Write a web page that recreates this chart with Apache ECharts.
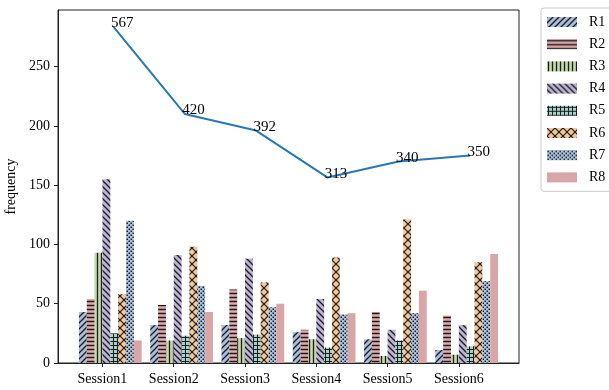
<!DOCTYPE html>
<html>
<head>
<meta charset="utf-8">
<script src="https://cdn.jsdelivr.net/npm/echarts@6/dist/echarts.min.js"></script>
<style>
  html, body { margin: 0; padding: 0; background: #fff; }
  #chart { width: 609px; height: 390px; }
</style>
</head>
<body>
<div id="chart"></div>
<script>
// Sessions along the x axis
const sessions = ['Session1', 'Session2', 'Session3', 'Session4', 'Session5', 'Session6'];
const seriesNames = ['R1', 'R2', 'R3', 'R4', 'R5', 'R6', 'R7', 'R8'];

// Per-session frequencies for each response group
const r1 = [43, 32, 32, 26, 20, 11];
const r2 = [54, 49, 62, 28, 43, 40];
const r3 = [93, 19, 21, 20, 6, 7];
const r4 = [155, 91, 88, 54, 28, 32];
const r5 = [25, 23, 24, 13, 19, 14];
const r6 = [58, 98, 68, 89, 121, 85];
const r7 = [120, 65, 47, 41, 42, 69];
const r8 = [19, 43, 50, 42, 61, 92];

// Session totals (line is drawn at half the total, label shows the total)
const sessionTotals = [567, 420, 392, 313, 340, 350];

const yTicks = [0, 50, 100, 150, 200, 250];

const groups = [r1, r2, r3, r4, r5, r6, r7, r8];
const fills = ['#a9bdd8', '#e2aaa8', '#c6d9a6', '#bdb3d2', '#a3d2c4', '#f4c79b', '#a9c2de', '#d8a6a6'];
const hatches = ['/', '-', '|', '\\', '+', 'x', '.', ''];

const INK = '#1c1c24';

// Build a repeating hatch tile on a small canvas
function hatchTile(bg, kind) {
  const size = (kind === 'x') ? 8 : (kind === '/' || kind === '\\') ? 6 : 4;
  const c = document.createElement('canvas');
  c.width = size; c.height = size;
  const g = c.getContext('2d');
  g.fillStyle = bg;
  g.fillRect(0, 0, size, size);
  g.strokeStyle = INK;
  g.fillStyle = INK;
  g.lineWidth = 1.3;
  const line = (x1, y1, x2, y2) => { g.beginPath(); g.moveTo(x1, y1); g.lineTo(x2, y2); g.stroke(); };
  if (kind === '/') {
    line(-1, size + 1, size + 1, -1);
    line(-1, 1, 1, -1);
    line(size - 1, size + 1, size + 1, size - 1);
  } else if (kind === '\\') {
    line(-1, -1, size + 1, size + 1);
    line(size - 1, -1, size + 1, 1);
    line(-1, size - 1, 1, size + 1);
  } else if (kind === '-') {
    g.lineWidth = 1.5;
    line(0, 1.5, size, 1.5);
  } else if (kind === '|') {
    g.lineWidth = 1.3;
    line(1.5, 0, 1.5, size);
  } else if (kind === '+') {
    g.lineWidth = 1;
    line(0, 1.5, size, 1.5);
    line(1.5, 0, 1.5, size);
  } else if (kind === 'x') {
    g.lineWidth = 1.2;
    line(0, 0, size, size);
    line(0, size, size, 0);
  } else if (kind === '.') {
    g.fillRect(0.5, 0.5, 1.5, 1.5);
    g.fillRect(2.5, 2.5, 1.5, 1.5);
  }
  return c;
}

// Bar layout: eight edge-aligned bars per session, width 0.11 in axis units
const BAR_W = 0.11;
const LINE_SHIFT = 0.155;
const X_MIN = -0.624, X_MAX = 5.844;
const Y_MAX = 297.7;

const GRID = { left: 58, right: 90, top: 10, bottom: 27 };
const plotW = 609 - GRID.left - GRID.right;
const barPx = BAR_W * plotW / (X_MAX - X_MIN);

const SERIF = '"Liberation Serif", "DejaVu Serif", serif';

const barSeries = groups.map((vals, k) => ({
  name: seriesNames[k],
  type: 'bar',
  xAxisIndex: 0,
  yAxisIndex: 0,
  barWidth: barPx,
  barGap: '-100%',
  itemStyle: {
    color: hatches[k] ? { image: hatchTile(fills[k], hatches[k]), repeat: 'repeat' } : fills[k]
  },
  emphasis: { disabled: true },
  data: vals.map((v, i) => [i + (k - 3) * BAR_W + BAR_W / 2, v])
}));

const lineSeries = {
  name: 'total',
  type: 'line',
  xAxisIndex: 0,
  yAxisIndex: 0,
  symbol: 'circle',
  symbolSize: 1,
  lineStyle: { color: '#2878b5', width: 2 },
  itemStyle: { color: '#2878b5' },
  label: {
    show: true,
    position: 'right',
    distance: 0,
    align: 'left',
    verticalAlign: 'bottom',
    offset: [-3, 4],
    color: '#000',
    fontFamily: SERIF,
    fontSize: 15,
    formatter: p => String(sessionTotals[p.dataIndex])
  },
  emphasis: { disabled: true },
  data: sessionTotals.map((t, i) => [i + LINE_SHIFT, t / 2])
};

const chart = echarts.init(document.getElementById('chart'), null, { renderer: 'canvas' });
chart.setOption({
  animation: false,
  backgroundColor: '#fff',
  grid: {
    left: GRID.left, right: GRID.right, top: GRID.top, bottom: GRID.bottom,
    outerBoundsMode: 'none',
    containLabel: false,
    show: true, borderColor: '#222', borderWidth: 1, backgroundColor: 'transparent'
  },
  legend: {
    data: seriesNames,
    orient: 'vertical',
    left: 541,
    top: 8,
    itemWidth: 30,
    itemHeight: 10,
    itemGap: 8.2,
    padding: [7, 14, 7, 6],
    borderColor: '#cccccc',
    borderWidth: 1,
    borderRadius: 3,
    icon: 'rect',
    textStyle: { fontFamily: SERIF, fontSize: 14, color: '#000', padding: [0, 0, 0, 7] }
  },
  xAxis: [{
    type: 'value',
    min: X_MIN,
    max: X_MAX,
    splitLine: { show: false },
    axisLine: { show: true, onZero: false, lineStyle: { color: '#222', width: 1 } },
    axisTick: { show: true, length: 4, customValues: sessions.map((s, i) => i), lineStyle: { color: '#222' } },
    axisLabel: {
      customValues: sessions.map((s, i) => i),
      formatter: v => sessions[Math.round(v)] || '',
      fontFamily: SERIF, fontSize: 14, color: '#000', margin: 9
    }
  }],
  yAxis: [{
    type: 'value',
    min: 0,
    max: Y_MAX,
    name: 'frequency',
    nameLocation: 'middle',
    nameGap: 36,
    nameRotate: 90,
    nameTextStyle: { fontFamily: SERIF, fontSize: 14, color: '#000' },
    splitLine: { show: false },
    axisLine: { show: true, onZero: false, lineStyle: { color: '#222', width: 1 } },
    axisTick: { show: true, length: 4, customValues: yTicks, lineStyle: { color: '#222' } },
    axisLabel: {
      customValues: yTicks,
      fontFamily: SERIF, fontSize: 14, color: '#000', margin: 8
    }
  }],
  series: [...barSeries, lineSeries]
});
</script>
</body>
</html>
